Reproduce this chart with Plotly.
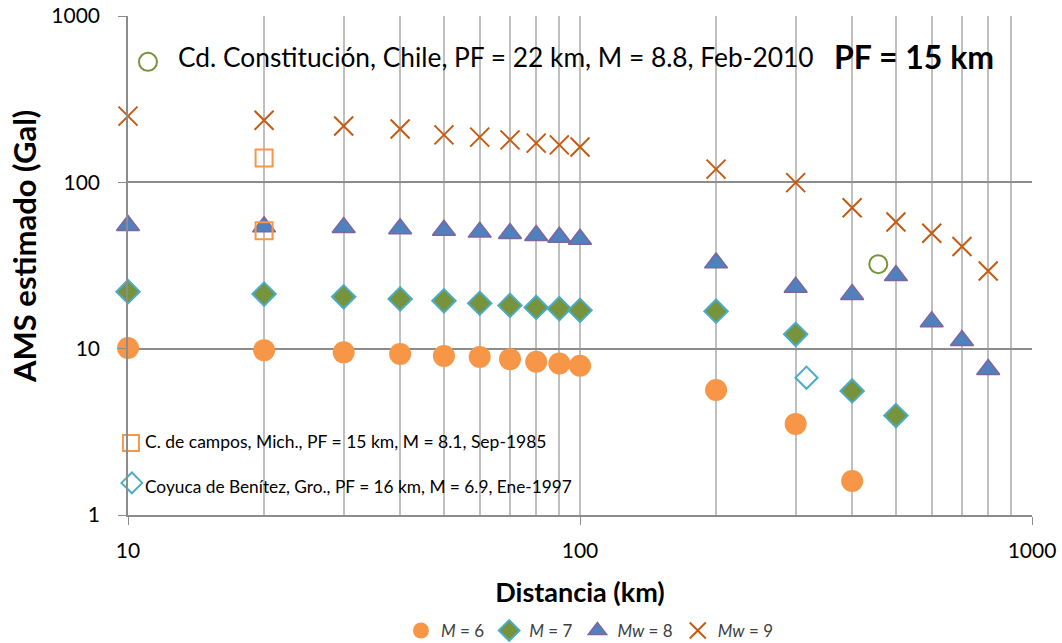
import plotly.graph_objects as go

# Distances (km)
dist = [10, 20, 30, 40, 50, 60, 70, 80, 90, 100, 200, 300, 400, 500, 600, 700, 800]

# Estimated AMS (Gal)
m6_x = [10, 20, 30, 40, 50, 60, 70, 80, 90, 100, 200, 300, 400]
m6_y = [10.1, 9.8, 9.5, 9.3, 9.05, 8.9, 8.65, 8.35, 8.15, 7.9, 5.65, 3.53, 1.6]

m7_x = [10, 20, 30, 40, 50, 60, 70, 80, 90, 100, 200, 300, 400, 500]
m7_y = [22.0, 21.3, 20.5, 19.9, 19.4, 18.75, 18.2, 17.7, 17.4, 17.0, 16.8, 12.2, 5.57, 3.96]

mw8_x = [10, 20, 30, 40, 50, 60, 70, 80, 90, 100, 200, 300, 400, 500, 600, 700, 800]
mw8_y = [55.0, 54.0, 53.6, 52.6, 51.5, 50.2, 49.2, 47.9, 46.8, 45.5, 32.8, 23.4, 21.2, 27.5, 14.5, 11.2, 7.5]

mw9_x = [10, 20, 30, 40, 50, 60, 70, 80, 90, 100, 200, 300, 400, 500, 600, 700, 800]
mw9_y = [250, 236, 218, 209, 193, 187, 180, 172, 168, 163, 120, 99.6, 70.4, 57.8, 49.4, 41.1, 29.3]

# Observed records
chile_x = [457]
chile_y = [32.2]
campos_x = [20, 20]
campos_y = [140, 51.2]
coyuca_x = [317]
coyuca_y = [6.69]

# Key symbols placed beside the notes
chile_key = ([11.07], [530])
campos_key = ([10.15], [2.71])
coyuca_key = ([10.2], [1.56])

notes = [
    "Cd. Constitución, Chile, PF = 22 km, M = 8.8, Feb-2010",
    "C. de campos, Mich., PF = 15 km, M = 8.1, Sep-1985",
    "Coyuca de Benítez, Gro., PF = 16 km, M = 6.9, Ene-1997",
]
pf_label = "PF = 15 km"
x_title = "Distancia (km)"
y_title = "AMS estimado (Gal)"

x_major = [10, 100, 1000]
x_minor = [20, 30, 40, 50, 60, 70, 80, 90, 200, 300, 400, 500, 600, 700, 800, 900]
y_major = [1, 10, 100, 1000]

FONT = "Lato"
ORANGE = "#F79646"
OLIVE = "#77933C"
CYAN = "#4BACC6"
BLUE = "#4F81BD"
PURPLE = "#8064A2"
BROWN = "#C55A11"

fig = go.Figure()

fig.add_trace(go.Scatter(x=m6_x, y=m6_y, mode="markers", name="<i>M</i> = 6", cliponaxis=False,
                         marker=dict(symbol="circle", size=22, color=ORANGE, line=dict(width=0))))
fig.add_trace(go.Scatter(x=m7_x, y=m7_y, mode="markers", name="<i>M</i> = 7", cliponaxis=False,
                         marker=dict(symbol="diamond", size=18, color=OLIVE, line=dict(width=2, color=CYAN))))
fig.add_trace(go.Scatter(x=mw8_x, y=mw8_y, mode="markers", name="<i>Mw</i> = 8", cliponaxis=False,
                         marker=dict(symbol="triangle-up", size=20, color=BLUE, line=dict(width=1.5, color=PURPLE))))
fig.add_trace(go.Scatter(x=mw9_x, y=mw9_y, mode="markers", name="<i>Mw</i> = 9", cliponaxis=False,
                         marker=dict(symbol="x-thin", size=19, color=BROWN, line=dict(width=2, color=BROWN))))

for (xs, ys, sym, col, sz) in [
    (chile_x, chile_y, "circle-open", OLIVE, 18),
    (chile_key[0], chile_key[1], "circle-open", OLIVE, 18),
    (campos_x, campos_y, "square-open", ORANGE, 17),
    (campos_key[0], campos_key[1], "square-open", ORANGE, 16),
    (coyuca_x, coyuca_y, "diamond-open", CYAN, 17),
    (coyuca_key[0], coyuca_key[1], "diamond-open", CYAN, 16),
]:
    fig.add_trace(go.Scatter(x=xs, y=ys, mode="markers", showlegend=False, cliponaxis=False,
                             marker=dict(symbol=sym, size=sz, color=col, line=dict(width=2, color=col))))

fig.add_annotation(x=0.053, y=0.918, xref="paper", yref="paper", text=notes[0], showarrow=False,
                   xanchor="left", yanchor="middle", font=dict(family=FONT, size=26.3, color="#000"))
fig.add_annotation(x=0.779, y=0.918, xref="paper", yref="paper", text="<b>" + pf_label + "</b>", showarrow=False,
                   xanchor="left", yanchor="middle", font=dict(family=FONT, size=32, color="#000"))
fig.add_annotation(x=0.0166, y=0.148, xref="paper", yref="paper", text=notes[1], showarrow=False,
                   xanchor="left", yanchor="middle", font=dict(family=FONT, size=17.5, color="#000"))
fig.add_annotation(x=0.0166, y=0.058, xref="paper", yref="paper", text=notes[2], showarrow=False,
                   xanchor="left", yanchor="middle", font=dict(family=FONT, size=17.3, color="#000"))
# y-axis title (placed as rotated text to match its off-centre position)
fig.add_annotation(x=24, xref="x domain", y=0.537, yref="paper", text="<b>" + y_title + "</b>",
                   showarrow=False, textangle=-90, xanchor="center", yanchor="middle",
                   font=dict(family=FONT, size=31, color="#000"))
fig.layout.annotations[-1].update(x=(24 - 128) / 904, xref="paper")

fig.update_xaxes(type="log", range=[1, 3], tickvals=x_major, ticktext=[str(v) for v in x_major],
                 showgrid=True, gridcolor="#BFBFBF", gridwidth=1.5, automargin=False,
                 minor=dict(tickvals=x_minor, showgrid=True, gridcolor="#BFBFBF", gridwidth=1.5, ticks=""),
                 showline=True, linecolor="#8C8C8C", linewidth=1.5, ticks="outside", ticklen=8, tickcolor="#8C8C8C",
                 ticklabelstandoff=8,
                 tickfont=dict(family=FONT, size=21, color="#000"), zeroline=False,
                 title=dict(text="<b>" + x_title + "</b>", font=dict(family=FONT, size=27, color="#000"), standoff=22))
fig.update_yaxes(type="log", range=[0, 3], tickvals=y_major, ticktext=[str(v) for v in y_major],
                 showgrid=True, gridcolor="#8C8C8C", gridwidth=1.5, automargin=False,
                 showline=True, linecolor="#8C8C8C", linewidth=1.5, ticks="outside", ticklen=8, tickcolor="#8C8C8C",
                 ticklabelstandoff=14,
                 tickfont=dict(family=FONT, size=21, color="#000"), zeroline=False)

fig.update_layout(
    width=1062, height=643,
    margin=dict(l=128, r=30, t=16, b=128),
    plot_bgcolor="white", paper_bgcolor="white",
    legend=dict(orientation="h", x=0.511, xanchor="center", yref="container", y=0.0187, yanchor="middle",
                font=dict(family=FONT, size=17, color="#404040"), itemwidth=30, tracegroupgap=0),
)

fig.write_html("out.html", config={"displayModeBar": False},
               post_script="document.body.style.margin='0';document.body.style.overflow='hidden';")
